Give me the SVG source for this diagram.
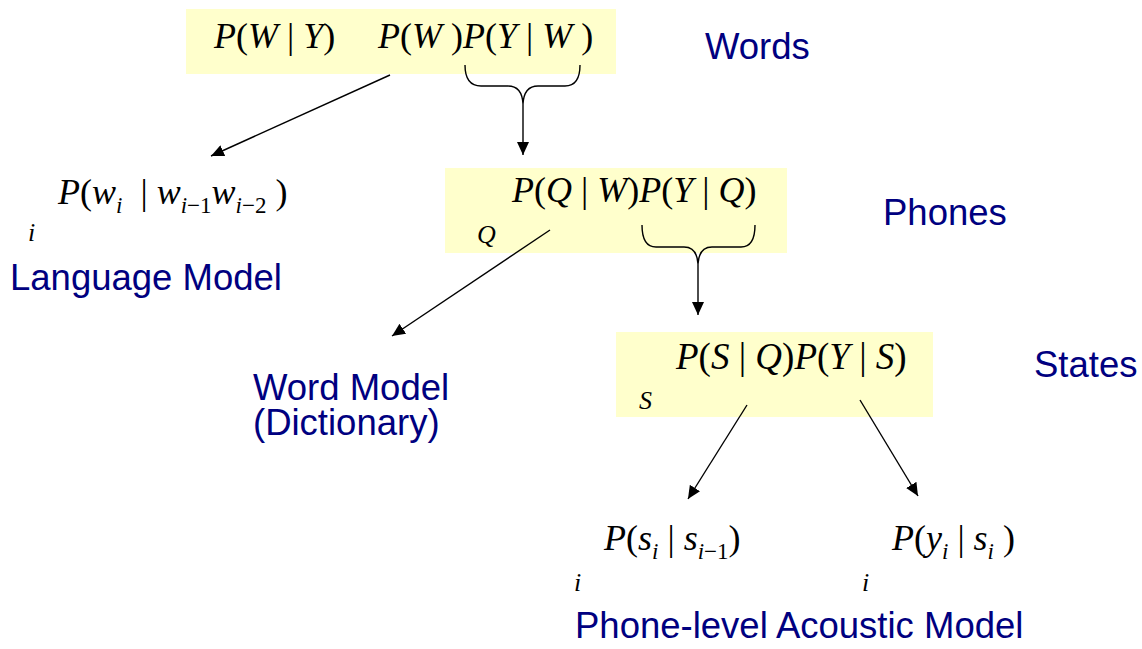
<svg xmlns="http://www.w3.org/2000/svg" width="1142" height="649" viewBox="0 0 1142 649">
<style>
.box{fill:#FFFFCC;stroke:none}
.m{font-family:"Liberation Serif","Times New Roman",serif;font-size:36px;fill:#000;white-space:pre}
.i{font-style:italic}
.s{font-size:23px}
.q{font-size:26px}
.lab{font-family:"Liberation Sans",Arial,sans-serif;font-size:36.5px;fill:#000080}
.ln{stroke:#000;stroke-width:1.4;fill:none}
</style>
<defs>
<marker id="ah" markerUnits="userSpaceOnUse" markerWidth="14" markerHeight="12" refX="13" refY="6" orient="auto">
<path d="M0,0 L13,6 L0,12 Z" fill="#000"/>
</marker>
</defs>
<rect width="1142" height="649" fill="#fff"/>

<g id="words">
<rect class="box" x="186" y="9" width="430" height="65"/>
<text class="m" x="214" y="48"><tspan class="i">P</tspan>(<tspan class="i">W</tspan> | <tspan class="i">Y</tspan>)</text>
<text class="m" x="378" y="48"><tspan class="i">P</tspan>(<tspan class="i">W</tspan> )<tspan class="i">P</tspan>(<tspan class="i">Y</tspan> | <tspan class="i">W</tspan> )</text>
</g>

<g id="phones">
<rect class="box" x="445" y="168" width="342" height="85"/>
<text class="m" x="512" y="202"><tspan class="i">P</tspan>(<tspan class="i">Q</tspan> | <tspan class="i">W</tspan>)<tspan class="i">P</tspan>(<tspan class="i">Y</tspan> | <tspan class="i">Q</tspan>)</text>
<text class="m i q" x="477" y="243">Q</text>
</g>

<g id="states">
<rect class="box" x="616" y="332" width="317" height="85"/>
<text class="m" x="676" y="369" style="font-size:37px"><tspan class="i">P</tspan>(<tspan class="i">S</tspan> | <tspan class="i">Q</tspan>)<tspan class="i">P</tspan>(<tspan class="i">Y</tspan> | <tspan class="i">S</tspan>)</text>
<text class="m i q" x="639" y="409">S</text>
</g>

<g id="language-model">
<text class="m" x="58" y="204"><tspan class="i">P</tspan>(<tspan class="i">w</tspan><tspan class="i s" y="213">i</tspan><tspan y="204">  | </tspan><tspan class="i">w</tspan><tspan class="i s" y="213">i</tspan><tspan class="s" y="213">−1</tspan><tspan class="i" y="204">w</tspan><tspan class="i s" y="213">i</tspan><tspan class="s" y="213">−2</tspan><tspan y="204"> )</tspan></text>
<text class="m i q" x="28" y="241">i</text>
<text class="lab" x="10" y="290">Language Model</text>
</g>

<g id="word-model">
<text class="lab" x="253" y="400">Word Model<tspan x="253" dy="35">(Dictionary)</tspan></text>
</g>

<g id="transition">
<text class="m" x="604" y="550"><tspan class="i">P</tspan>(<tspan class="i">s</tspan><tspan class="i s" y="559">i</tspan><tspan y="550"> | </tspan><tspan class="i">s</tspan><tspan class="i s" y="559">i</tspan><tspan class="s" y="559">−1</tspan><tspan y="550">)</tspan></text>
<text class="m i q" x="574" y="591">i</text>
</g>

<g id="emission">
<text class="m" x="892" y="550"><tspan class="i">P</tspan>(<tspan class="i">y</tspan><tspan class="i s" y="559">i</tspan><tspan y="550"> | </tspan><tspan class="i">s</tspan><tspan class="i s" y="559">i</tspan><tspan y="550"> )</tspan></text>
<text class="m i q" x="862" y="591">i</text>
</g>

<g id="labels">
<text class="lab" x="705" y="59">Words</text>
<text class="lab" x="883" y="225">Phones</text>
<text class="lab" x="1034" y="377">States</text>
<text class="lab" x="575" y="638">Phone-level Acoustic Model</text>
</g>

<g id="connectors">
<path class="ln" d="M465,65 Q465,86 481,86 L508,86 Q522,86 523,104 Q524,86 538,86 L565,86 Q580,86 580,65"/>
<line class="ln" x1="523" y1="104" x2="523" y2="155" marker-end="url(#ah)"/>
<path class="ln" d="M642,225 Q642,247 656,247 L684,247 Q697,247 698,264 Q699,247 712,247 L741,247 Q755,247 755,225"/>
<line class="ln" x1="698" y1="264" x2="698" y2="315" marker-end="url(#ah)"/>
<line class="ln" x1="390" y1="75" x2="211" y2="156" marker-end="url(#ah)"/>
<line class="ln" x1="550" y1="230" x2="392" y2="336" marker-end="url(#ah)"/>
<line class="ln" x1="747" y1="405" x2="688" y2="499" marker-end="url(#ah)"/>
<line class="ln" x1="860" y1="400" x2="918" y2="496" marker-end="url(#ah)"/>
</g>
</svg>
